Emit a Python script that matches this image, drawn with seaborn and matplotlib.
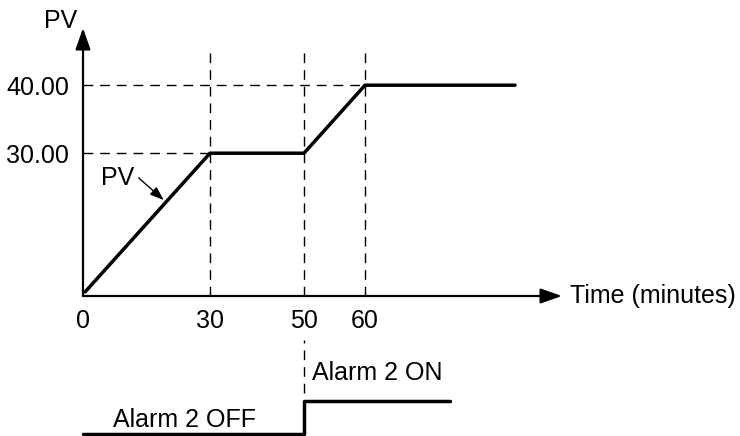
import numpy as np
import matplotlib.pyplot as plt
import seaborn as sns

# PV profile: time (minutes) vs PV
pv_time = [0.5, 30, 50, 60, 100]
pv_value = [9.6, 30, 30, 40, 40]

# Alarm 2 output (0 = OFF, 1 = ON)
alarm_time = [0, 50, 50, 82.7]
alarm_state = [0, 0, 1, 1]

x_ticks = [0, 30, 50, 60]
x_labels = ['0', '30', '50', '60']
y_ticks = [15, 30, 40]
y_labels = ['', '30.00', '40.00']

# schematic time axis (spacing is not proportional in the drawing)
t_knots = [0, 30, 50, 60, 100, 112.5]
px_knots = [0, 127, 221, 282, 432, 479]


def fwd(t):
    return np.interp(t, t_knots, px_knots)


def inv(p):
    return np.interp(p, px_knots, t_knots)


sns.set_style("white")
plt.rcParams['font.family'] = ['Liberation Sans', 'DejaVu Sans']
plt.rcParams['text.color'] = 'black'

W, H = 740, 436
fig = plt.figure(figsize=(7.4, 4.36), dpi=100)
ax = fig.add_axes([83 / W, 140 / H, 479 / W, 268 / H])
ax2 = fig.add_axes([83 / W, 0, 479 / W, 106 / H])

for a in (ax, ax2):
    a.set_xscale('function', functions=(fwd, inv))
    a.set_xlim(0, 112.5)
    a.set_facecolor('none')

# --- PV chart ---
ax.set_ylim(9, 9 + 268 / 6.8)
for s in ax.spines.values():
    s.set_visible(False)

dash = (0, (7, 5))
ax.hlines([30, 40], 0, [30, 60], colors='black', linewidth=1.0, linestyles=dash)
ax.vlines([30, 50, 60], 9, 45, colors='black', linewidth=1.0, linestyles=dash)

sns.lineplot(x=pv_time, y=pv_value, ax=ax, color='black', linewidth=2.5,
             estimator=None, sort=False)

# axes with arrow heads
arrow = dict(arrowstyle='-|>,head_length=1,head_width=0.35', mutation_scale=13,
             color='black', lw=1.6, shrinkA=0, shrinkB=0)
ax.annotate('', xy=(0, 1), xytext=(0, 0), xycoords='axes fraction', arrowprops=arrow)
ax.annotate('', xy=(1, 0), xytext=(0, 0), xycoords='axes fraction', arrowprops=arrow)

ax.set_xticks(x_ticks, x_labels)
ax.set_yticks(y_ticks, y_labels)
ax.tick_params(axis='x', direction='in', length=6, width=1, labelsize=18, pad=9,
               color='black', labelcolor='black')
ax.tick_params(axis='y', direction='inout', length=10, width=1, labelsize=18, pad=5,
               color='black', labelcolor='black')

ax.annotate('PV', xy=(0, 1), xycoords='axes fraction', xytext=(-4, 5),
            textcoords='offset points', ha='right', va='center', fontsize=18)
ax.annotate('Time (minutes)', xy=(1, 0), xycoords='axes fraction', xytext=(6, 0),
            textcoords='offset points', ha='left', va='center', fontsize=18)
ax.annotate('PV', xy=(19.1, 23.1), xytext=(8.2, 26.4), ha='center', va='center',
            fontsize=18,
            arrowprops=dict(arrowstyle='-|>,head_length=0.7,head_width=0.25',
                            mutation_scale=12, color='black', lw=1.0,
                            relpos=(1, 0.65), shrinkA=1, shrinkB=0))

# --- Alarm 2 output ---
ax2.set_ylim(-0.045, -0.045 + 106 / 33.5)
ax2.axis('off')
ax2.vlines([50], 1.24, 2.82, colors='black', linewidth=1.0, linestyles=dash)
sns.lineplot(x=alarm_time, y=alarm_state, ax=ax2, color='black', linewidth=2.5,
             estimator=None, sort=False)
for line in ax2.lines:
    line.set_clip_on(False)
ax2.text(23.9, 0.43, 'Alarm 2 OFF', ha='center', va='center', fontsize=18)
ax2.text(51.3, 1.84, 'Alarm 2 ON', ha='left', va='center', fontsize=18)

fig.savefig('out.png', dpi=100)
